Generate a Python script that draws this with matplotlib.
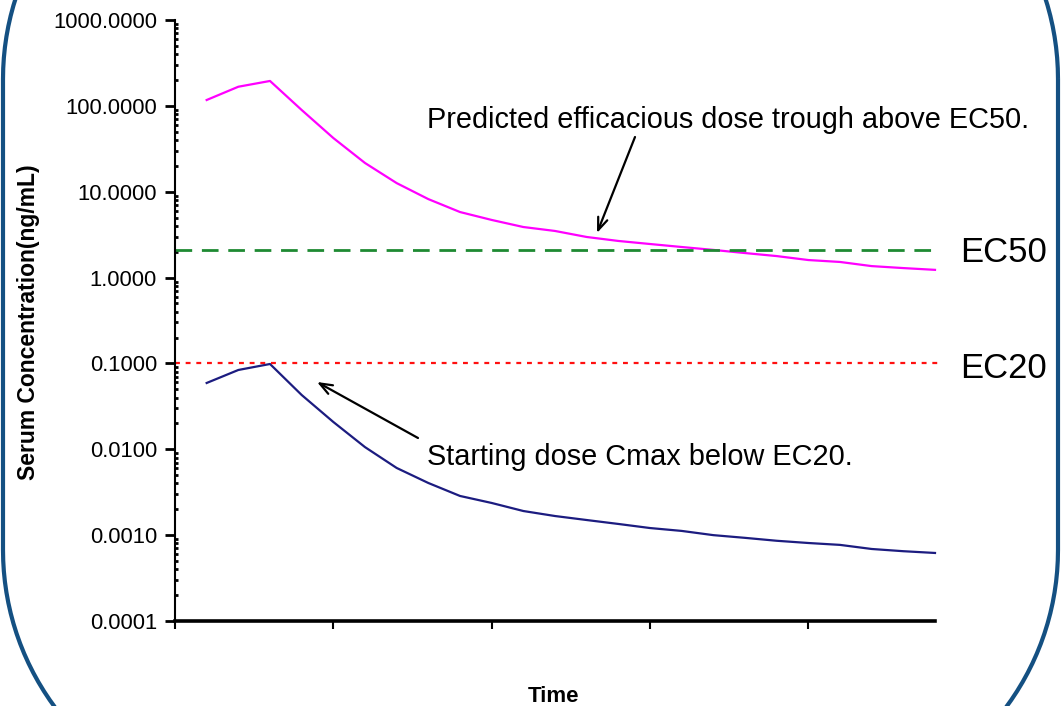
import numpy as np
import matplotlib
matplotlib.use("Agg")
import matplotlib.pyplot as plt
from matplotlib import font_manager
from matplotlib.patches import PathPatch
from matplotlib.path import Path
from matplotlib.ticker import FixedLocator, LogLocator, NullFormatter, FuncFormatter

# ---------------- data ----------------
time_points = list(range(1, 25))
efficacious_dose = [117, 167, 195, 89.5, 42.2, 21.6, 12.6, 8.2, 5.8, 4.69, 3.88, 3.49,
                    2.97, 2.67, 2.46, 2.27, 2.10, 1.93, 1.78, 1.60, 1.52, 1.36, 1.29, 1.23]
starting_dose = [0.0592, 0.0839, 0.0985, 0.0429, 0.0208, 0.0106, 0.00606, 0.00405,
                 0.00286, 0.00237, 0.00191, 0.00167, 0.00150, 0.00135, 0.00121, 0.00112,
                 0.00100, 0.00093, 0.00086, 0.00081, 0.00077, 0.00069, 0.00065, 0.00062]
ec50 = 2.1
ec20 = 0.1
y_ticks = [0.0001, 0.001, 0.01, 0.1, 1, 10, 100, 1000]
x_ticks = [0, 5, 10, 15, 20]
x_limits = [0, 24]
ylabel = "Serum Concentration(ng/mL)"
xlabel = "Time"
note_top = "Predicted efficacious dose trough above EC50."
note_bottom = "Starting dose Cmax below EC20."
label_ec50 = "EC50"
label_ec20 = "EC20"

# ---------------- fonts ----------------
names = {f.name for f in font_manager.fontManager.ttflist}
narrow_ok = "Liberation Sans Narrow" in names
narrow = ["Liberation Sans Narrow", "Liberation Sans", "DejaVu Sans"] if narrow_ok else ["Liberation Sans", "DejaVu Sans"]
nscale = 1.0 if narrow_ok else 0.83
plt.rcParams["font.family"] = ["Liberation Sans", "DejaVu Sans"]

W, H = 1061, 706
fig = plt.figure(figsize=(W / 100, H / 100), dpi=100)
fig.patch.set_facecolor("white")

ax_l, ax_r, ax_t, ax_b = 175, 935, 20, 621
ax = fig.add_axes([ax_l / W, 1 - ax_b / H, (ax_r - ax_l) / W, (ax_b - ax_t) / H])

ax.plot(time_points, efficacious_dose, color="#ff00ff", lw=1.6, clip_on=False)
ax.plot(time_points, starting_dose, color="#1c1c80", lw=1.6, clip_on=False)
ax.axhline(ec50, xmin=0, xmax=1.004, color="#1e8a32", lw=2.0, dashes=(6, 3.5), clip_on=False)
ax.axhline(ec20, xmin=0, xmax=1.004, color="#ff1010", lw=1.6, dashes=(2.2, 2.6), clip_on=False)

ax.set_yscale("log")
ax.set_ylim(y_ticks[0], y_ticks[-1])
ax.set_xlim(*x_limits)
ax.yaxis.set_major_locator(FixedLocator(y_ticks))
ax.yaxis.set_major_formatter(FuncFormatter(lambda v, p: f"{v:.4f}"))
ax.yaxis.set_minor_locator(LogLocator(base=10, subs=np.arange(2, 10), numticks=20))
ax.yaxis.set_minor_formatter(NullFormatter())
ax.xaxis.set_major_locator(FixedLocator(x_ticks))
ax.set_xticklabels([])

for s in ["top", "right"]:
    ax.spines[s].set_visible(False)
ax.spines["left"].set_linewidth(1.5)
ax.spines["bottom"].set_linewidth(2.6)
ax.tick_params(axis="y", which="major", direction="out", length=7, width=2.0,
               labelsize=15.8, pad=6)
ax.tick_params(axis="y", which="minor", direction="in", length=2.5, width=2.0)
ax.tick_params(axis="x", which="major", direction="out", length=6, width=1.5)

# annotations
def fx(px):
    return (px - ax_l) / (ax_r - ax_l)

def fy(py):
    return (ax_b - py) / (ax_b - ax_t)

ax.text(fx(427), fy(128), note_top, transform=ax.transAxes, family=narrow,
        fontsize=25 * nscale, ha="left", va="baseline")
ax.text(fx(427), fy(465), note_bottom, transform=ax.transAxes, family=narrow,
        fontsize=25 * nscale, ha="left", va="baseline")
arrow = dict(arrowstyle="->,head_length=0.9,head_width=0.35", color="black", lw=1.6,
             shrinkA=0, shrinkB=0)
ax.annotate("", xy=(fx(597), fy(233)), xytext=(fx(635), fy(137)),
            xycoords="axes fraction", textcoords="axes fraction", arrowprops=arrow)
ax.annotate("", xy=(fx(317), fy(382)), xytext=(fx(418), fy(438)),
            xycoords="axes fraction", textcoords="axes fraction", arrowprops=arrow)
ax.text(fx(960), fy(262), label_ec50, transform=ax.transAxes, family=narrow,
        fontsize=30 * nscale, ha="left", va="baseline", clip_on=False)
ax.text(fx(960), fy(378), label_ec20, transform=ax.transAxes, family=narrow,
        fontsize=30 * nscale, ha="left", va="baseline", clip_on=False)

fig.text(29 / W, 1 - 322 / H, ylabel, rotation=90, ha="center", va="center",
         fontsize=16.5, fontweight="bold")
fig.text(553 / W, 1 - 697 / H, xlabel, ha="center", va="center",
         fontsize=16, fontweight="bold")

# rounded frame with circular corners, built in inches (figure pixels / 100)
def rounded_rect(x0, y0, x1, y1, r, n=40):
    pts = []
    corners = [((x1 - r, y1 - r), 0, 90), ((x0 + r, y1 - r), 90, 180),
               ((x0 + r, y0 + r), 180, 270), ((x1 - r, y0 + r), 270, 360)]
    for (cx, cy), a0, a1 in corners:
        t = np.radians(np.linspace(a0, a1, n))
        pts.extend(zip(cx + r * np.cos(t), cy + r * np.sin(t)))
    pts.append(pts[0])
    return Path(np.array(pts))

frame_path = rounded_rect(3 / 100, (H - 814) / 100, 1058 / 100, (H + 185) / 100, 2.64)
frame = PathPatch(frame_path, transform=fig.dpi_scale_trans, fill=False,
                  edgecolor="#145082", lw=3.0, clip_on=False)
fig.add_artist(frame)

fig.savefig("out.png", dpi=100, facecolor="white")
